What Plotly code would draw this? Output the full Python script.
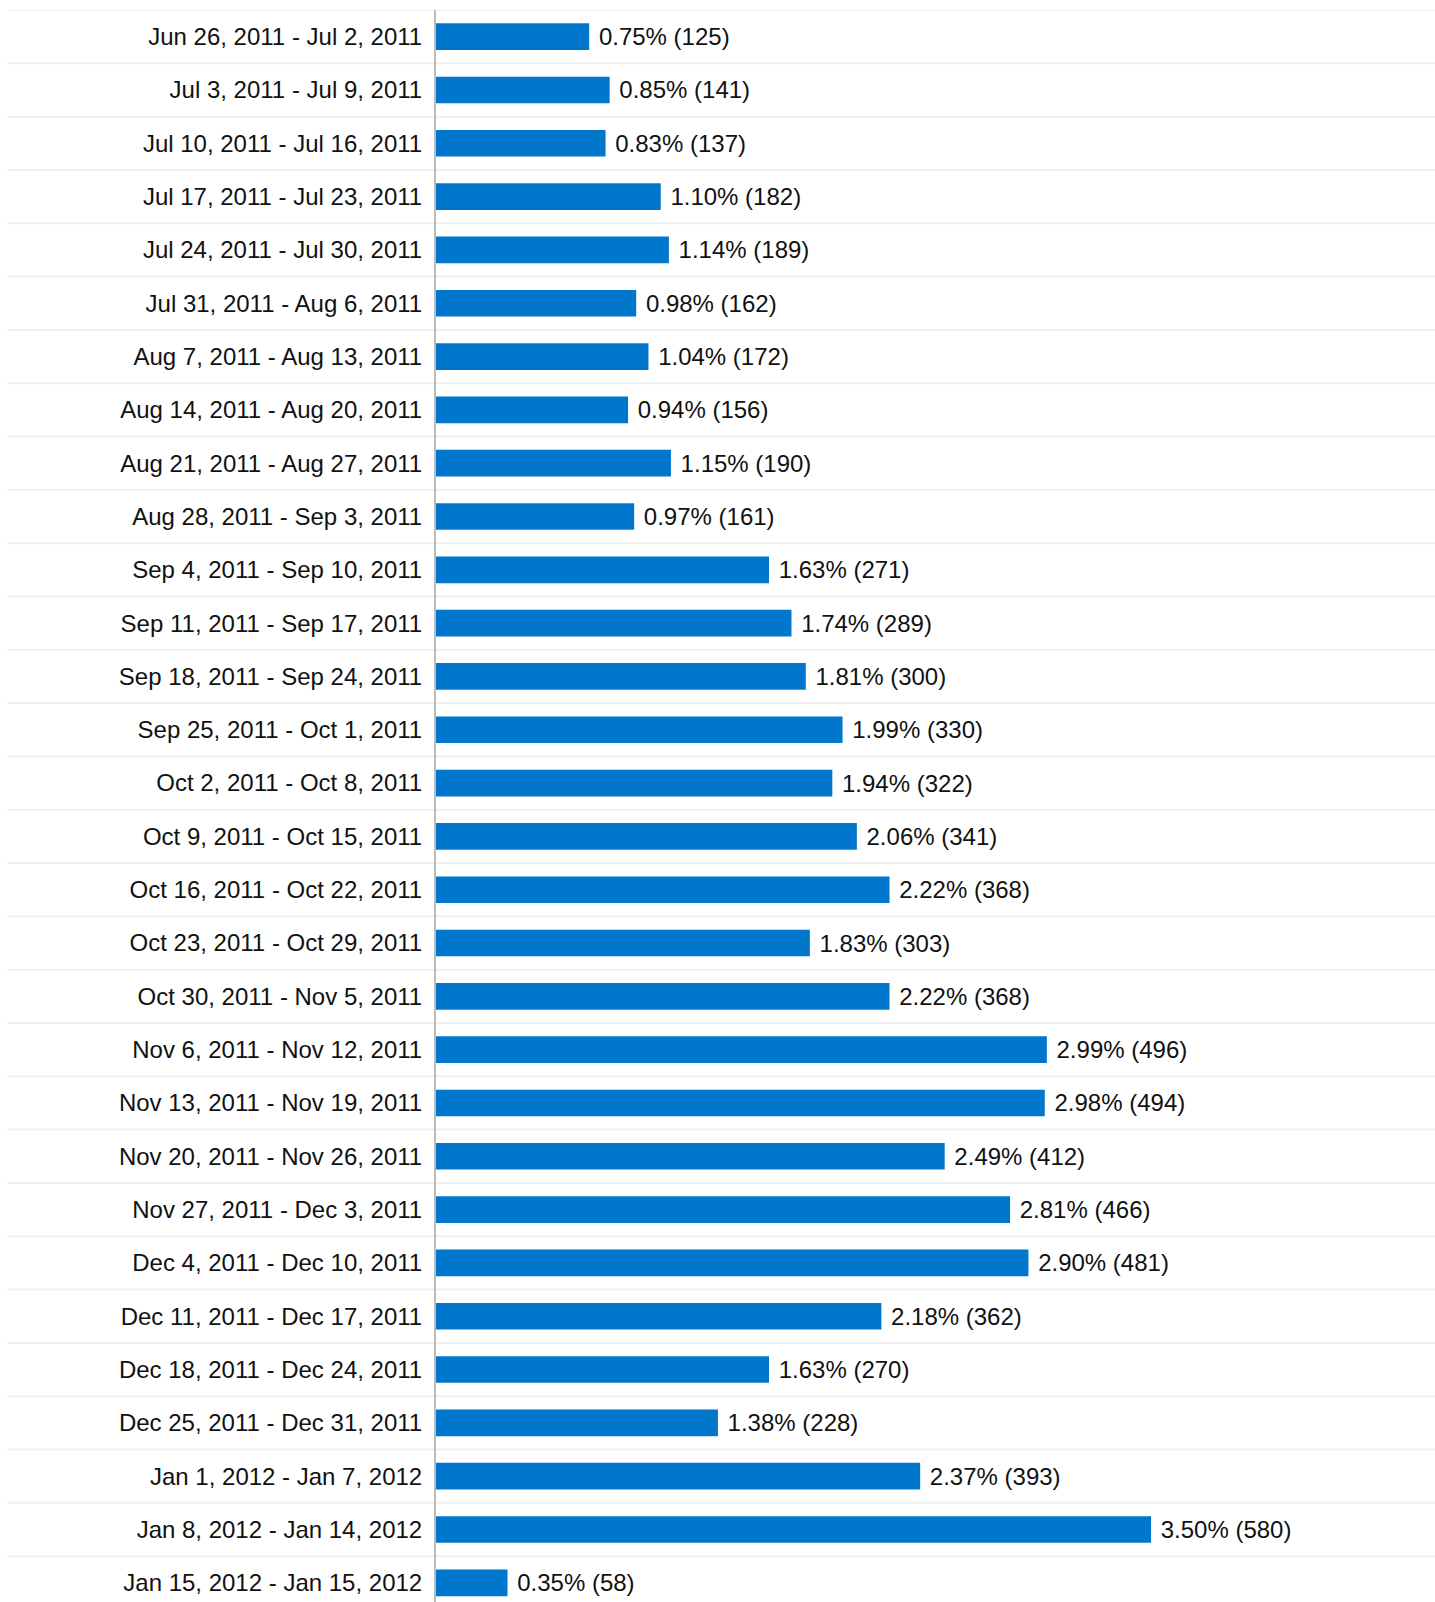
import plotly.graph_objects as go

weeks = [
    "Jun 26, 2011 - Jul 2, 2011",
    "Jul 3, 2011 - Jul 9, 2011",
    "Jul 10, 2011 - Jul 16, 2011",
    "Jul 17, 2011 - Jul 23, 2011",
    "Jul 24, 2011 - Jul 30, 2011",
    "Jul 31, 2011 - Aug 6, 2011",
    "Aug 7, 2011 - Aug 13, 2011",
    "Aug 14, 2011 - Aug 20, 2011",
    "Aug 21, 2011 - Aug 27, 2011",
    "Aug 28, 2011 - Sep 3, 2011",
    "Sep 4, 2011 - Sep 10, 2011",
    "Sep 11, 2011 - Sep 17, 2011",
    "Sep 18, 2011 - Sep 24, 2011",
    "Sep 25, 2011 - Oct 1, 2011",
    "Oct 2, 2011 - Oct 8, 2011",
    "Oct 9, 2011 - Oct 15, 2011",
    "Oct 16, 2011 - Oct 22, 2011",
    "Oct 23, 2011 - Oct 29, 2011",
    "Oct 30, 2011 - Nov 5, 2011",
    "Nov 6, 2011 - Nov 12, 2011",
    "Nov 13, 2011 - Nov 19, 2011",
    "Nov 20, 2011 - Nov 26, 2011",
    "Nov 27, 2011 - Dec 3, 2011",
    "Dec 4, 2011 - Dec 10, 2011",
    "Dec 11, 2011 - Dec 17, 2011",
    "Dec 18, 2011 - Dec 24, 2011",
    "Dec 25, 2011 - Dec 31, 2011",
    "Jan 1, 2012 - Jan 7, 2012",
    "Jan 8, 2012 - Jan 14, 2012",
    "Jan 15, 2012 - Jan 15, 2012",
]

percents = [0.75, 0.85, 0.83, 1.10, 1.14, 0.98, 1.04, 0.94, 1.15, 0.97,
            1.63, 1.74, 1.81, 1.99, 1.94, 2.06, 2.22, 1.83, 2.22, 2.99,
            2.98, 2.49, 2.81, 2.90, 2.18, 1.63, 1.38, 2.37, 3.50, 0.35]

counts = [125, 141, 137, 182, 189, 162, 172, 156, 190, 161,
          271, 289, 300, 330, 322, 341, 368, 303, 368, 496,
          494, 412, 466, 481, 362, 270, 228, 393, 580, 58]

labels = ["\u00a0%.2f%% (%d)" % (p, c) for p, c in zip(percents, counts)]

FONT = "Liberation Sans, Arial, Helvetica, sans-serif"

fig = go.Figure(go.Bar(
    y=weeks,
    x=percents,
    orientation="h",
    marker=dict(color="#0077cc", line=dict(width=0)),
    width=0.5,
    text=labels,
    textposition="outside",
    constraintext="none",
    cliponaxis=False,
    textfont=dict(family=FONT, size=24, color="#111111"),
    hoverinfo="skip",
))

shapes = []
for i in range(len(weeks)):
    shapes.append(dict(
        type="line", xref="paper", yref="y",
        x0=-0.429, x1=1.0, y0=i - 0.5, y1=i - 0.5,
        line=dict(color="#efefef", width=2),
        layer="below",
    ))

fig.update_layout(
    width=1435,
    height=1602,
    margin=dict(l=436, r=0, t=10, b=0, pad=0),
    paper_bgcolor="white",
    plot_bgcolor="white",
    showlegend=False,
    shapes=shapes,
    font=dict(family=FONT, size=24, color="#111111"),
)

fig.update_xaxes(
    range=[0, 4.89],
    showgrid=False,
    zeroline=False,
    showticklabels=False,
    showline=False,
    fixedrange=True,
)

fig.update_yaxes(
    type="category",
    range=[29.36, -0.5],
    showgrid=False,
    zeroline=False,
    showline=True,
    linecolor="#bbbbbb",
    linewidth=2,
    ticks="",
    ticklabelstandoff=7,
    tickfont=dict(family=FONT, size=24, color="#111111"),
    fixedrange=True,
)

fig.write_html(
    "out.html",
    config={"displayModeBar": False},
    post_script="document.body.style.margin='0';document.body.style.overflow='hidden';",
)
